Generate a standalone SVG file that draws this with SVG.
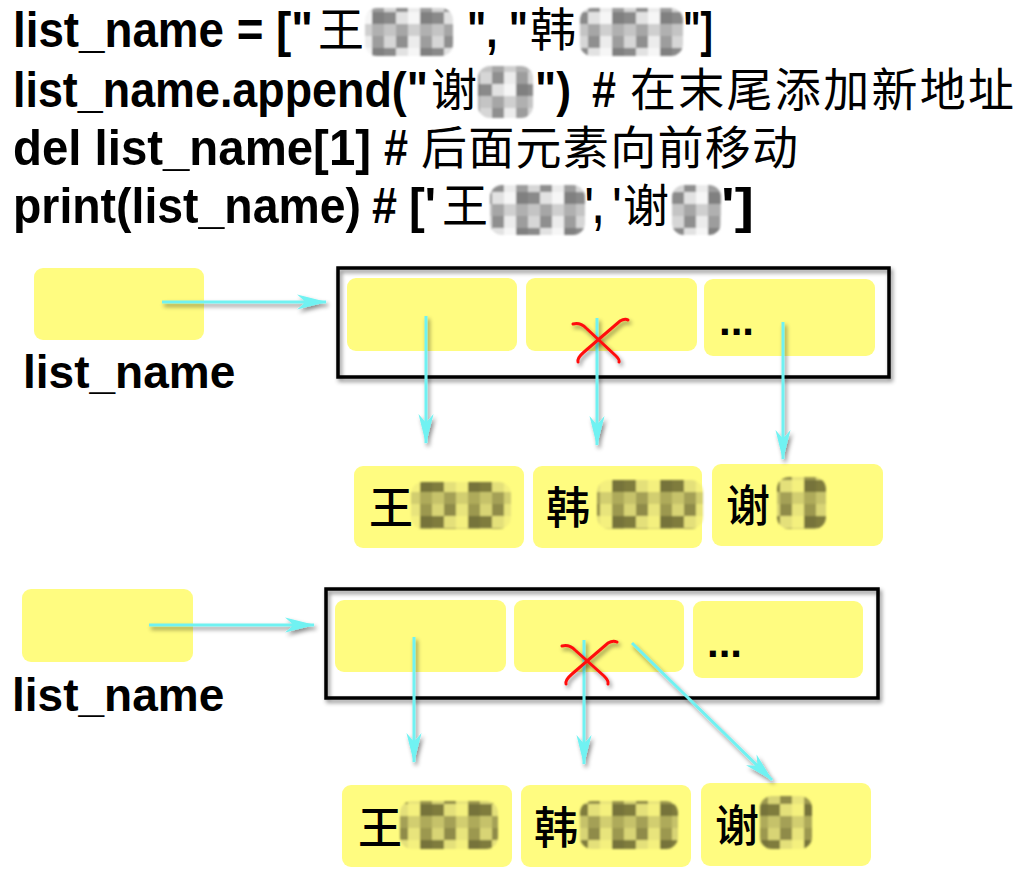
<svg xmlns="http://www.w3.org/2000/svg" width="1019" height="870" viewBox="0 0 1019 870">
<style>
.code{font-family:"Liberation Sans",Arial,sans-serif;font-weight:bold;font-size:50px;fill:#000}
.cjk{font-family:"Noto Sans CJK SC",sans-serif;font-size:46px;fill:#000}
.lbl{font-family:"Liberation Sans",Arial,sans-serif;font-weight:bold;font-size:46px;fill:#000}
.nm{font-family:"Noto Sans CJK SC",sans-serif;font-size:44px;font-weight:500;fill:#000}
.dots{font-family:"Liberation Sans",Arial,sans-serif;font-weight:bold;font-size:42px;fill:#000}
.cell{fill:#FFFC80}
.frame{fill:none;stroke:#000;stroke-width:3.5}
.conn{stroke:#70F2F2;stroke-width:3;fill:none}
.cross{stroke:#FF1010;stroke-width:3;fill:none;stroke-linecap:round}
</style>
<defs>
<filter id="sh" x="-20%" y="-20%" width="140%" height="140%">
<feDropShadow dx="2" dy="3" stdDeviation="2" flood-color="#000" flood-opacity="0.45"/>
</filter>
<filter id="soft"><feGaussianBlur stdDeviation="1.2"/></filter>
<marker id="ah" markerUnits="userSpaceOnUse" markerWidth="30" markerHeight="18" viewBox="0 0 28 16" refX="27" refY="8" orient="auto">
<path d="M0,1 L28,8 L0,15 L8,8 Z" fill="#70F2F2"/>
</marker>
<pattern id="mg" width="48" height="36" patternUnits="userSpaceOnUse">
<rect width="48" height="36" fill="#b9b9b9"/>
<rect x="0" y="0" width="12" height="12" fill="#d6d6d6"/>
<rect x="12" y="0" width="12" height="12" fill="#8f8f8f"/>
<rect x="24" y="0" width="12" height="12" fill="#ececec"/>
<rect x="36" y="0" width="12" height="12" fill="#9d9d9d"/>
<rect x="0" y="12" width="12" height="12" fill="#8a8a8a"/>
<rect x="12" y="12" width="12" height="12" fill="#e2e2e2"/>
<rect x="24" y="12" width="12" height="12" fill="#f6f6f6"/>
<rect x="36" y="12" width="12" height="12" fill="#808080"/>
<rect x="0" y="24" width="12" height="12" fill="#c4c4c4"/>
<rect x="12" y="24" width="12" height="12" fill="#a6a6a6"/>
<rect x="24" y="24" width="12" height="12" fill="#cfcfcf"/>
<rect x="36" y="24" width="12" height="12" fill="#b0b0b0"/>
</pattern>
<pattern id="my" width="48" height="36" patternUnits="userSpaceOnUse">
<rect width="48" height="36" fill="#bdb964"/>
<rect x="0" y="0" width="12" height="12" fill="#d8d474"/>
<rect x="12" y="0" width="12" height="12" fill="#8f8b48"/>
<rect x="24" y="0" width="12" height="12" fill="#e8e47c"/>
<rect x="36" y="0" width="12" height="12" fill="#9c9850"/>
<rect x="0" y="12" width="12" height="12" fill="#7f7c3e"/>
<rect x="12" y="12" width="12" height="12" fill="#e4e07a"/>
<rect x="24" y="12" width="12" height="12" fill="#f4f07e"/>
<rect x="36" y="12" width="12" height="12" fill="#76733a"/>
<rect x="0" y="24" width="12" height="12" fill="#c6c26a"/>
<rect x="12" y="24" width="12" height="12" fill="#a4a056"/>
<rect x="24" y="24" width="12" height="12" fill="#d2ce70"/>
<rect x="36" y="24" width="12" height="12" fill="#aeaa5a"/>
</pattern>
</defs>
<rect width="1019" height="870" fill="#fff"/>

<g id="code">
<text class="code" x="13" y="47" textLength="300" lengthAdjust="spacingAndGlyphs">list_name = ["</text>
<text class="cjk" x="318" y="46">王</text>
<text class="code" x="467" y="47" textLength="61" lengthAdjust="spacingAndGlyphs">", "</text>
<text class="cjk" x="530" y="46">韩</text>
<text class="code" x="683" y="47" textLength="30" lengthAdjust="spacingAndGlyphs">"]</text>
<rect x="365" y="8" width="88" height="48" rx="12" fill="url(#mg)" filter="url(#soft)"/>
<rect x="580" y="8" width="103" height="48" rx="12" fill="url(#mg)" filter="url(#soft)"/>

<text class="code" x="13" y="107" textLength="415" lengthAdjust="spacingAndGlyphs">list_name.append("</text>
<text class="cjk" x="431" y="106">谢</text>
<text class="code" x="535" y="107" textLength="36" lengthAdjust="spacingAndGlyphs">")</text>
<text class="code" x="592" y="107" textLength="24" lengthAdjust="spacingAndGlyphs">#</text>
<text class="cjk" x="630" y="106" font-size="48" textLength="384">在末尾添加新地址</text>
<rect x="478" y="66" width="55" height="52" rx="12" fill="url(#mg)" filter="url(#soft)"/>

<text class="code" x="13" y="165" textLength="358" lengthAdjust="spacingAndGlyphs">del list_name[1]</text>
<text class="code" x="384" y="165" textLength="24" lengthAdjust="spacingAndGlyphs">#</text>
<text class="cjk" x="421" y="164" font-size="48" textLength="377">后面元素向前移动</text>

<text class="code" x="13" y="223" textLength="348" lengthAdjust="spacingAndGlyphs">print(list_name)</text>
<text class="code" x="372" y="223" textLength="25" lengthAdjust="spacingAndGlyphs">#</text>
<text class="code" x="409" y="223" textLength="27" lengthAdjust="spacingAndGlyphs">['</text>
<text class="cjk" x="442" y="222">王</text>
<text class="code" x="585" y="223" textLength="36" lengthAdjust="spacingAndGlyphs">', '</text>
<text class="cjk" x="623" y="222">谢</text>
<text class="code" x="721" y="223" textLength="33" lengthAdjust="spacingAndGlyphs">']</text>
<rect x="490" y="185" width="95" height="50" rx="12" fill="url(#mg)" filter="url(#soft)"/>
<rect x="672" y="185" width="49" height="50" rx="12" fill="url(#mg)" filter="url(#soft)"/>
</g>

<g id="var1">
<rect class="cell" x="34" y="268" width="170" height="72" rx="9"/>
<text class="lbl" x="23" y="388">list_name</text>
</g>
<g id="list1">
<rect class="frame" x="338" y="268" width="551" height="109" filter="url(#sh)"/>
<rect class="cell" x="347" y="278" width="170" height="73" rx="9"/>
<rect class="cell" x="526" y="278" width="171" height="73" rx="9"/>
<rect class="cell" x="704" y="279" width="171" height="77" rx="9"/>
<text class="dots" x="719" y="335">...</text>
</g>
<g id="name1a">
<rect class="cell" x="354" y="466" width="170" height="82" rx="9"/>
<text class="nm" x="369" y="524">王</text>
<rect x="411" y="482" width="100" height="47" rx="12" fill="url(#my)" filter="url(#soft)"/>
</g>
<g id="name1b">
<rect class="cell" x="533" y="466" width="169" height="82" rx="9"/>
<text class="nm" x="546" y="524">韩</text>
<rect x="597" y="480" width="106" height="49" rx="12" fill="url(#my)" filter="url(#soft)"/>
</g>
<g id="name1c">
<rect class="cell" x="712" y="464" width="171" height="82" rx="9"/>
<text class="nm" x="726" y="522">谢</text>
<rect x="777" y="477" width="49" height="52" rx="12" fill="url(#my)" filter="url(#soft)"/>
</g>

<g id="var2">
<rect class="cell" x="22" y="589" width="171" height="73" rx="9"/>
<text class="lbl" x="12" y="711">list_name</text>
</g>
<g id="list2">
<rect class="frame" x="326" y="589" width="552" height="109" filter="url(#sh)"/>
<rect class="cell" x="335" y="600" width="171" height="72" rx="9"/>
<rect class="cell" x="514" y="600" width="170" height="72" rx="9"/>
<rect class="cell" x="693" y="601" width="170" height="77" rx="9"/>
<text class="dots" x="707" y="657">...</text>
</g>
<g id="name2a">
<rect class="cell" x="342" y="785" width="170" height="82" rx="9"/>
<text class="nm" x="358" y="844">王</text>
<rect x="400" y="801" width="98" height="48" rx="12" fill="url(#my)" filter="url(#soft)"/>
</g>
<g id="name2b">
<rect class="cell" x="521" y="785" width="170" height="82" rx="9"/>
<text class="nm" x="534" y="844">韩</text>
<rect x="580" y="801" width="98" height="48" rx="12" fill="url(#my)" filter="url(#soft)"/>
</g>
<g id="name2c">
<rect class="cell" x="701" y="783" width="170" height="83" rx="9"/>
<text class="nm" x="715" y="842">谢</text>
<rect x="760" y="796" width="52" height="53" rx="12" fill="url(#my)" filter="url(#soft)"/>
</g>

<g id="connectors" filter="url(#sh)">
<line class="conn" x1="162" y1="302" x2="326" y2="302" marker-end="url(#ah)"/>
<line class="conn" x1="426" y1="316" x2="426" y2="443" marker-end="url(#ah)"/>
<line class="conn" x1="597" y1="318" x2="597" y2="445" marker-end="url(#ah)"/>
<line class="conn" x1="783" y1="322" x2="783" y2="459" marker-end="url(#ah)"/>
<line class="conn" x1="149" y1="625" x2="314" y2="625" marker-end="url(#ah)"/>
<line class="conn" x1="414" y1="637" x2="414" y2="762" marker-end="url(#ah)"/>
<line class="conn" x1="584" y1="640" x2="584" y2="764" marker-end="url(#ah)"/>
<line class="conn" x1="632" y1="643" x2="772" y2="780" marker-end="url(#ah)"/>
</g>
<g id="cross1" filter="url(#sh)">
<path class="cross" d="M573,324 Q580,322 586,328 L616,356 Q620,360 619,362"/>
<path class="cross" d="M628,320 Q625,318 620,321 L584,352 Q577,358 578,362"/>
</g>
<g id="cross2" filter="url(#sh)">
<path class="cross" d="M562,646 Q569,644 575,650 L604,676 Q609,681 608,684"/>
<path class="cross" d="M617,642 Q613,640 608,643 L572,674 Q565,680 566,684"/>
</g>
</svg>
